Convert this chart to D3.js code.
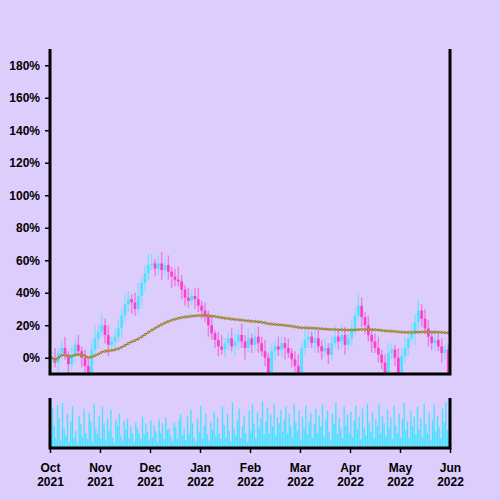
<!DOCTYPE html>
<html>
<head>
<meta charset="utf-8">
<script src="https://cdn.jsdelivr.net/npm/d3@7"></script>
<style>
  html, body { margin: 0; padding: 0; background: #ddcdfd; }
  svg { display: block; }
  .axis text { font-family: "Liberation Sans", Arial, sans-serif; font-weight: bold; font-size: 12px; fill: #000; }
  .axis line { stroke: #000; stroke-width: 1.5; }
  .axis path { display: none; }
</style>
</head>
<body>
<div id="chart"></div>
<script>
// month labels on the bottom axis
const months = ['Oct', 'Nov', 'Dec', 'Jan', 'Feb', 'Mar', 'Apr', 'May', 'Jun'];
const years = ['2021', '2021', '2021', '2022', '2022', '2022', '2022', '2022', '2022'];
const yTicks = [0, 20, 40, 60, 80, 100, 120, 140, 160, 180];

// closing value (%) every ~2 days, 15 per month
const closes = [
  0, -3, 3, 6, 2, -4, 2, 8, 4, 0,
  -5, -12, 5, 12, 16, 20, 14, 8, 10, 13,
  18, 26, 33, 36, 34, 30, 38, 46, 52, 57,
  58, 55, 58, 54, 57, 53, 50, 48, 47, 42,
  37, 35, 38, 36, 32, 29, 25, 20, 15, 11,
  7, 5, 9, 12, 7, 10, 14, 10, 6, 12,
  8, 13, 9, 4, 0, -12, 4, 7, 5, 9,
  6, 3, -1, -5, -12, 6, 11, 13, 9, 12,
  7, 4, 6, 2, 9, 13, 10, 14, 8, 12,
  18, 26, 32, 25, 20, 14, 10, 6, 2, -3,
  -12, 3, 5, 0, -12, 1, 6, 12, 15, 22,
  29, 24, 18, 13, 9, 11, 7, 3, 5, -12
];
// wick length above / below the body
const wickHi = [
  4, 6, 3, 5, 7, 2, 5, 4, 6, 3, 5, 4, 6, 8, 5, 7, 4, 6, 3, 5,
  6, 4, 7, 5, 3, 6, 8, 4, 5, 7, 6, 3, 5, 7, 4, 6, 3, 5, 8, 4,
  3, 6, 4, 5, 7, 3, 5, 4, 6, 2, 5, 7, 3, 4, 6, 5, 3, 7, 4, 6,
  3, 5, 6, 4, 7, 3, 5, 4, 6, 5, 4, 6, 3, 5, 7, 4, 6, 5, 3, 7,
  5, 4, 6, 3, 5, 7, 4, 6, 5, 3, 6, 4, 8, 5, 3, 6, 4, 5, 7, 3,
  5, 6, 4, 3, 6, 5, 7, 4, 6, 5, 7, 4, 6, 5, 3, 6, 4, 5, 3, 4
];
const wickLo = [
  5, 3, 6, 4, 3, 7, 4, 5, 3, 6, 4, 3, 5, 4, 6, 3, 5, 7, 4, 5,
  3, 6, 4, 5, 7, 4, 3, 6, 5, 4, 3, 5, 4, 6, 3, 5, 7, 4, 3, 6,
  5, 4, 3, 6, 4, 5, 3, 7, 4, 5, 6, 3, 5, 4, 3, 6, 5, 4, 7, 3,
  5, 4, 6, 3, 5, 4, 3, 6, 4, 5, 7, 3, 5, 4, 3, 6, 4, 5, 3, 6,
  4, 5, 3, 6, 4, 3, 5, 4, 6, 3, 5, 4, 3, 6, 5, 4, 7, 3, 5, 4,
  3, 6, 4, 5, 3, 6, 4, 5, 3, 7, 4, 5, 3, 6, 4, 5, 3, 6, 4, 3
];
// daily traded volume, relative, 30 per month
const volumes = [
  30, 82, 45, 20, 88, 60, 15, 92, 40, 25, 70, 12, 55, 85, 20, 35, 10, 65, 48, 22,
  80, 30, 18, 72, 55, 12, 90, 40, 28, 66, 20, 84, 50, 15, 60, 35, 78, 22, 10, 58,
  45, 70, 25, 14, 56, 38, 60, 20, 44, 30, 12, 52, 40, 30, 18, 64, 28, 50, 34, 16,
  56, 22, 46, 34, 12, 58, 30, 50, 18, 62, 36, 40, 24, 14, 52, 42, 20, 58, 68, 26,
  40, 16, 64, 30, 78, 50, 22, 12, 60, 34, 86, 20, 46, 70, 28, 15, 52, 38, 74, 24,
  62, 30, 18, 84, 48, 22, 70, 36, 14, 92, 40, 26, 58, 80, 20, 44, 66, 30, 12, 76,
  35, 88, 50, 20, 72, 42, 60, 96, 28, 55, 82, 30, 68, 44, 90, 25, 62, 50, 78, 34,
  58, 84, 30, 70, 46, 22, 90, 52, 36, 76, 18, 64, 40, 86, 28, 54, 72, 20, 48, 80,
  30, 66, 44, 88, 24, 58, 76, 34, 16, 70, 50, 92, 28, 62, 40, 20, 84, 46, 68, 30,
  74, 22, 56, 86, 38, 64, 18, 80, 42, 26, 90, 52, 34, 72, 20, 60, 44, 88, 30, 66,
  50, 24, 78, 40, 62, 18, 86, 46, 30, 70, 22, 58, 92, 36, 54, 20, 76, 44, 64, 28,
  84, 38, 60, 22, 90, 48, 30, 72, 16, 56, 88, 34, 66, 42, 20, 80, 52, 94, 36, 74
];

const dims = { left: 50, right: 450, top: 49, bottom: 374, volTop: 398, volBottom: 448 };
const perMonth = 15;
const volPerMonth = 30;

const data = closes.map(function(c, i) {
  const open = i === 0 ? 0 : closes[i - 1];
  return {
    t: (i + 0.5) / perMonth,
    open: open,
    close: c,
    high: Math.max(open, c) + wickHi[i],
    low: Math.min(open, c) - wickLo[i]
  };
});

// expanding mean of the closes
const sums = d3.cumsum(closes);
const avg = data.map((d, i) => ({ t: d.t, v: sums[i] / (i + 1) }));

const x = d3.scaleLinear().domain([0, months.length - 1]).range([dims.left, dims.right]);
const y = d3.scaleLinear().domain([-10, 190]).range([dims.bottom, dims.top]);
const yv = d3.scaleLinear().domain([0, 100]).range([dims.volBottom, dims.volTop + 1]);

const svg = d3.select('#chart').append('svg')
  .attr('width', 500)
  .attr('height', 500);

svg.append('rect').attr('width', 500).attr('height', 500).attr('fill', '#ddcdfd');

svg.append('clipPath').attr('id', 'plotClip')
  .append('rect')
  .attr('x', dims.left).attr('y', dims.top)
  .attr('width', dims.right - dims.left).attr('height', dims.bottom - dims.top);

const plot = svg.append('g').attr('clip-path', 'url(#plotClip)');
const upColor = '#3ee4ff', downColor = '#ff30c8';
const step = x(1 / perMonth) - x(0);
const volStep = x(1 / volPerMonth) - x(0);

// wicks
plot.append('g').selectAll('line')
  .data(data)
  .join('line')
    .attr('x1', d => x(d.t)).attr('x2', d => x(d.t))
    .attr('y1', d => y(d.high)).attr('y2', d => y(d.low))
    .attr('stroke', d => d.close >= d.open ? upColor : downColor)
    .attr('stroke-width', 1.5)
    .attr('opacity', 0.5);

// bodies
plot.append('g').selectAll('rect')
  .data(data)
  .join('rect')
    .attr('x', d => x(d.t) - step * 0.42)
    .attr('width', step * 0.84)
    .attr('y', d => y(Math.max(d.open, d.close)))
    .attr('height', d => Math.max(1, Math.abs(y(d.open) - y(d.close))))
    .attr('fill', d => d.close >= d.open ? upColor : downColor)
    .attr('opacity', 0.85);

// average line with dots
plot.append('path')
  .datum(avg)
  .attr('fill', 'none')
  .attr('stroke', '#6c5c2c')
  .attr('stroke-width', 1)
  .attr('d', d3.line().x(d => x(d.t)).y(d => y(d.v)));

plot.append('g').selectAll('circle')
  .data(avg)
  .join('circle')
    .attr('cx', d => x(d.t)).attr('cy', d => y(d.v))
    .attr('r', 1.3)
    .attr('fill', '#c4ac38')
    .attr('stroke', '#6c5c2c')
    .attr('stroke-width', 0.4);

// volume bars
svg.append('g').selectAll('rect')
  .data(volumes)
  .join('rect')
    .attr('x', (d, j) => x((j + 0.5) / volPerMonth) - volStep * 0.4)
    .attr('width', volStep * 0.8)
    .attr('y', d => yv(d))
    .attr('height', d => dims.volBottom - yv(d))
    .attr('fill', '#3ee4ff');

// y axis
svg.append('g').attr('class', 'axis')
  .attr('transform', `translate(${dims.left},0)`)
  .call(d3.axisLeft(y).tickValues(yTicks).tickSize(5).tickPadding(5).tickFormat(d => d + '%'));

// x axis under the volume panel
const xAxis = svg.append('g').attr('class', 'axis')
  .attr('transform', `translate(0,${dims.volBottom})`)
  .call(d3.axisBottom(x).tickValues(d3.range(months.length)).tickSize(5).tickFormat(''));

xAxis.selectAll('.tick').append('text')
  .attr('text-anchor', 'middle')
  .selectAll('tspan')
  .data(d => [months[d], years[d]])
  .join('tspan')
    .attr('x', 0)
    .attr('y', (d, i) => 24 + i * 14)
    .text(d => d);

// frame lines
const frame = svg.append('g').attr('stroke', '#000').attr('stroke-width', 3).attr('fill', 'none');
frame.append('path').attr('d', `M${dims.left},${dims.top}V${dims.bottom}H${dims.right}V${dims.top}`);
frame.append('path').attr('d', `M${dims.left},${dims.volTop}V${dims.volBottom}H${dims.right}V${dims.volTop}`);
</script>
</body>
</html>
